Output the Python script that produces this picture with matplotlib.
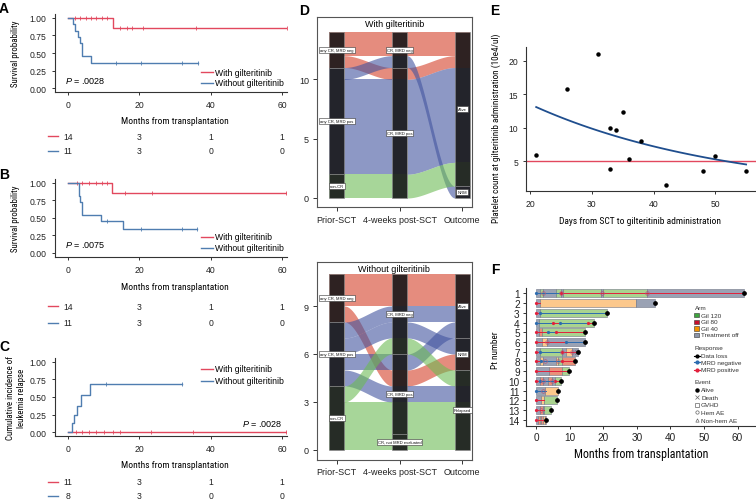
import os
import numpy as np
import matplotlib
matplotlib.use("Agg")
import matplotlib.pyplot as plt
from matplotlib import transforms
from matplotlib import font_manager as fm
from matplotlib.lines import Line2D
from matplotlib.patches import Rectangle

plt.rcParams['font.family'] = ['Liberation Sans', 'DejaVu Sans']
plt.rcParams['mathtext.fontset'] = 'custom'
plt.rcParams['mathtext.it'] = 'Liberation Sans:italic'
plt.rcParams['mathtext.rm'] = 'Liberation Sans'

W, H = 756, 502
RED = '#E2485E'
BLUE = '#4F7DB0'
AXC = '#333333'

# ---------------- data: A / B / C (Kaplan-Meier & cumulative incidence) ----------------
km_xticks = [0, 20, 40, 60]
km_yticks = [0, 0.25, 0.5, 0.75, 1.0]
km_yticklabels = ['0.00', '0.25', '0.50', '0.75', '1.00']
groups = ['With gilteritinib', 'Without gilteritinib']

A_with_t = [0, 12.7, 61.3]
A_with_s = [1.0, 0.857, 0.857]
A_with_cens = [2.0, 3.5, 5.0, 6.5, 8.0, 9.5, 11.0, 14.5, 16.5, 18.0, 21.0, 36.0, 61.3]
A_wo_t = [0, 1.5, 2.0, 2.9, 3.4, 4.0, 6.35, 36.5]
A_wo_s = [1.0, 0.909, 0.818, 0.727, 0.636, 0.455, 0.364, 0.364]
A_wo_cens = [13.5, 20.5, 32.0, 36.5]
A_risk_with = [14, 3, 1, 1]
A_risk_wo = [11, 3, 0, 0]

B_with_t = [0, 12.3, 61.0]
B_with_s = [1.0, 0.857, 0.857]
B_with_cens = [2.5, 4.0, 6.0, 8.0, 9.5, 11.0, 16.0, 23.5, 61.0]
B_wo_t = [0, 3.0, 3.2, 3.4, 3.9, 9.2, 15.5, 36.3]
B_wo_s = [1.0, 0.909, 0.818, 0.727, 0.545, 0.455, 0.341, 0.341]
B_wo_cens = [11.0, 20.5, 32.0, 36.3]
B_risk_with = [14, 3, 1, 1]
B_risk_wo = [11, 3, 0, 0]

C_with_t = [0, 61.0]
C_with_s = [0.0, 0.0]
C_with_cens = [2.4, 4.0, 6.0, 8.0, 10.0, 12.7, 14.6, 23.2, 35.2, 61.0]
C_wo_t = [0, 1.3, 1.7, 2.6, 3.55, 6.2, 32.1]
C_wo_s = [0.0, 0.125, 0.25, 0.375, 0.53, 0.686, 0.686]
C_wo_cens = [10.8, 32.1]
C_risk_with = [11, 3, 1, 1]
C_risk_wo = [8, 3, 0, 0]

# ---------------- data: D (alluvial) ----------------
D_axes_names = ['Prior-SCT', '4-weeks post-SCT', 'Outcome']
# patient groups: (prior state, 4-weeks state, outcome, n)
DW_groups = [
    ('any CR, MRD neg', 'CR, MRD neg', 'Alive', 2),
    ('any CR, MRD neg', 'CR, MRD pos', 'Alive', 1),
    ('any CR, MRD pos', 'CR, MRD neg', 'NRM', 1),
    ('any CR, MRD pos', 'CR, MRD pos', 'Alive', 8),
    ('non-CR', 'CR, MRD pos', 'Alive', 2),
]
DW_order = [[0, 1, 2, 3, 4], [0, 2, 1, 3, 4], [0, 1, 3, 4, 2]]
DO_groups = [
    ('any CR, MRD neg', 'CR, MRD neg', 'Alive', 2),
    ('any CR, MRD neg', 'CR, MRD pos', 'NRM', 1),
    ('any CR, MRD pos', 'CR, MRD neg', 'Alive', 1),
    ('any CR, MRD pos', 'CR, MRD neg', 'NRM', 1),
    ('any CR, MRD pos', 'CR, MRD pos', 'Alive', 1),
    ('any CR, MRD pos', 'CR, MRD pos', 'Relapsed', 1),
    ('non-CR', 'CR, MRD neg', 'Relapsed', 1),
    ('non-CR', 'CR, MRD pos', 'Relapsed', 2),
    ('non-CR', 'CR, not MRD evaluated', 'Relapsed', 1),
]
DO_order = [[0, 1, 2, 3, 4, 5, 6, 7, 8], [0, 2, 3, 6, 4, 1, 5, 7, 8], [0, 2, 4, 3, 1, 6, 5, 7, 8]]
flow_colors = {'any CR, MRD neg': '#D53F28', 'any CR, MRD pos': '#42549F', 'non-CR': '#6DBB55'}

# ---------------- data: E (scatter) ----------------
E_days = np.array([21, 26, 31, 33, 33, 34, 35, 36, 38, 42, 48, 50, 55])
E_plt = np.array([5.9, 15.8, 21.0, 10.0, 3.9, 9.6, 12.3, 5.3, 8.0, 1.5, 3.5, 5.7, 3.5])
E_threshold = 5

# ---------------- data: F (swimmer) ----------------
F_end = [62.0, 35.5, 21.0, 17.3, 14.5, 14.5, 12.5, 11.7, 9.7, 7.5, 6.6, 6.3, 4.4, 3.1]
F_arms = [
    [(0, 1.2, 'off'), (1.2, 2.0, 'g120'), (2.0, 5.8, 'off'), (5.8, 7.3, 'g120'), (7.3, 8.0, 'off'),
     (8.0, 19.3, 'g120'), (19.3, 19.9, 'off'), (19.9, 33.0, 'g120'), (33.0, 62.0, 'off')],
    [(0, 1.3, 'off'), (1.3, 29.8, 'g40'), (29.8, 35.5, 'off')],
    [(0, 1.2, 'off'), (1.2, 21.0, 'g120')],
    [(0, 0.8, 'off'), (0.8, 17.3, 'g120')],
    [(0, 1.0, 'off'), (1.0, 1.8, 'g80'), (1.8, 14.5, 'g120')],
    [(0, 1.8, 'off'), (1.8, 3.3, 'g40'), (3.3, 14.5, 'off')],
    [(0, 1.3, 'off'), (1.3, 7.6, 'g120'), (7.6, 9.0, 'off'), (9.0, 10.8, 'g40'), (10.8, 12.5, 'off')],
    [(0, 1.2, 'off'), (1.2, 2.0, 'g40'), (2.0, 6.0, 'off'), (6.0, 6.6, 'g40'), (6.6, 7.6, 'g120'), (7.6, 11.7, 'g80')],
    [(0, 3.9, 'off'), (3.9, 7.6, 'g80'), (7.6, 9.7, 'g120')],
    [(0, 1.2, 'off'), (1.2, 2.2, 'g80'), (2.2, 3.7, 'off'), (3.7, 4.7, 'g80'), (4.7, 5.6, 'off'), (5.6, 7.5, 'g120')],
    [(0, 2.8, 'off'), (2.8, 6.6, 'g40')],
    [(0, 1.5, 'off'), (1.5, 2.4, 'g40'), (2.4, 6.3, 'g120')],
    [(0, 1.2, 'off'), (1.2, 2.0, 'g80'), (2.0, 2.5, 'off'), (2.5, 4.4, 'g120')],
    [(0, 0.6, 'off'), (0.6, 1.1, 'g80'), (1.1, 1.6, 'g40'), (1.6, 2.1, 'g80'), (2.1, 2.6, 'g40'), (2.6, 3.1, 'g80')],
]
F_resp = [
    [(0, 7.5, 'neg'), (7.5, 62.0, 'pos')],
    [(0, 1.3, 'pos')],
    [(0, 1.2, 'pos'), (1.2, 21.0, 'neg')],
    [(0, 5.0, 'neg'), (5.0, 7.0, 'pos'), (7.0, 15.5, 'neg'), (15.5, 17.3, 'pos')],
    [(0, 3.5, 'pos'), (3.5, 6.0, 'neg'), (6.0, 14.5, 'pos')],
    [(0, 9.0, 'pos'), (9.0, 14.5, 'neg')],
    [(0, 1.3, 'pos'), (1.3, 7.6, 'neg'), (7.6, 12.5, 'pos')],
    [(0, 1.5, 'pos'), (1.5, 7.6, 'neg'), (7.6, 11.7, 'pos')],
    [(0, 9.7, 'pos')],
    [(0, 1.2, 'pos'), (1.2, 5.6, 'neg'), (5.6, 7.5, 'pos')],
    [(0, 3.0, 'neg')],
    [(0, 2.4, 'pos')],
    [(0, 2.5, 'pos')],
    [(0, 3.1, 'pos')],
]
F_hem_ae = [(1, 2.0), (1, 7.3), (1, 19.5), (1, 33.0), (6, 3.3), (7, 7.6), (7, 10.8),
            (8, 2.7), (8, 6.5), (10, 2.2), (10, 4.7), (11, 2.0), (13, 1.6)]
F_death = [(7, 12.3)]
arm_face = {'g120': '#A9D38F', 'g80': '#E8917A', 'g40': '#FCC88C', 'off': '#9AA2B4'}
arm_legend = [('Gil 120', '#3FA53F'), ('Gil 80', '#C8102E'), ('Gil 40', '#F39200'), ('Treatment off', '#8C95A8')]
resp_color = {'neg': '#2C6CB0', 'pos': '#E2203C'}


# condensed font for the axis titles (Helvetica Condensed look)
def find_narrow():
    files = [f.fname for f in fm.fontManager.ttflist]
    prefs = ['liberationsansnarrow-regular', 'robotocondensed-regular', 'notosans-condensed.',
             'opensans_condensed-regular', 'opensans-condensed', 'dejavusanscondensed.']
    for p in prefs:
        for fn in files:
            if os.path.basename(fn).lower().startswith(p):
                return fn
    for fn in files:
        b = os.path.basename(fn).lower()
        if ('narrow' in b or 'condensed' in b) and not any(k in b for k in ['bold', 'italic', 'oblique', 'light', 'thin', 'black', 'medium']):
            return fn
    return None


NARROW_FILE = find_narrow()


def nfont(size):
    if NARROW_FILE:
        return fm.FontProperties(fname=NARROW_FILE, size=size)
    return fm.FontProperties(family='Liberation Sans', size=size * 0.9)


def fx(x):
    return x / W


def fy(y):
    return 1 - y / H


def px_axes(left, top, right, bottom):
    return fig.add_axes([fx(left), fy(bottom), (right - left) / W, (bottom - top) / H])


def style_axes(ax, fs=6, length=2.5, pad=3):
    for s in ['top', 'right']:
        ax.spines[s].set_visible(False)
    for s in ['left', 'bottom']:
        ax.spines[s].set_color(AXC)
        ax.spines[s].set_linewidth(0.8)
    ax.tick_params(colors=AXC, labelsize=fs, length=length, width=0.7, pad=pad, labelcolor='#222222')


def step_at(t, s, x):
    idx = np.searchsorted(t, x, side='right') - 1
    return np.asarray(s)[np.clip(idx, 0, len(s) - 1)]


fig = plt.figure(figsize=(7.56, 5.02), dpi=100)


def km_panel(top, bottom, curves, ylabel, risk, ptxt, ppos, pha, legy, labpos, rows, letter, lety):
    ax = px_axes(55, top, 287, bottom)
    for t, s, cens, col in curves:
        ax.step(t, s, where='post', color=col, lw=1.0)
        ax.plot(cens, step_at(t, s, cens), ls='none', marker='|', ms=3, mew=0.6, color=col)
    ax.set_xlim(-3.6, 61.4)
    ax.set_ylim(-0.057, 1.057)
    ax.set_xticks(km_xticks)
    ax.set_yticks(km_yticks)
    ax.set_yticklabels(km_yticklabels)
    style_axes(ax, fs=6.2, length=2.5, pad=3.5)
    fig.text(fx(labpos[0]), fy(labpos[1]), 'Months from transplantation', ha='center', va='center',
             fontproperties=nfont(6.8))
    fig.text(fx(16), fy((top + bottom) / 2), ylabel, rotation=90, ha='center', va='center',
             fontproperties=nfont(6.4), linespacing=1.25)
    fig.text(fx(ppos[0]), fy(ppos[1]), ptxt, ha=pha, va='center', fontsize=6.5)
    for (lab, col), yy in zip(zip(groups, [RED, BLUE]), legy):
        fig.add_artist(Line2D([fx(201), fx(213)], [fy(yy), fy(yy)], color=col, lw=1.0))
        fig.text(fx(215), fy(yy), lab, ha='left', va='center', fontsize=6.2)
    blend = transforms.blended_transform_factory(ax.transData, fig.transFigure)
    for vals, col, yy in zip(risk, [RED, BLUE], rows):
        fig.add_artist(Line2D([fx(48), fx(58)], [fy(yy), fy(yy)], color=col, lw=1.0))
        for xv, n in zip(km_xticks, vals):
            ax.text(xv, fy(yy), str(n), transform=blend, ha='center', va='center', fontsize=6.2,
                    clip_on=False, color='#222222')
    fig.text(fx(4), fy(lety), letter, ha='center', va='center', fontsize=10, fontweight='bold')
    return ax


km_panel(15, 93,
         [(A_with_t, A_with_s, A_with_cens, RED), (A_wo_t, A_wo_s, A_wo_cens, BLUE)],
         'Survival probability', [A_risk_with, A_risk_wo], r'$P$ = .0028', (65, 81), 'left',
         [73, 84], (175, 122), [137, 152], 'A', 9)
km_panel(180, 257.7,
         [(B_with_t, B_with_s, B_with_cens, RED), (B_wo_t, B_wo_s, B_wo_cens, BLUE)],
         'Survival probability', [B_risk_with, B_risk_wo], r'$P$ = .0075', (65, 245), 'left',
         [237.7, 248.7], (175, 287), [307, 324], 'B', 175)
km_panel(359, 437,
         [(C_with_t, C_with_s, C_with_cens, RED), (C_wo_t, C_wo_s, C_wo_cens, BLUE)],
         'Cumulative incidence of\nleukemia relapse', [C_risk_with, C_risk_wo], r'$P$ = .0028', (282, 424),
         'right', [370, 381.7], (175, 466), [483, 497], 'C', 347)


# ---------------- D: alluvial ----------------
def alluvial(ax, grp, order, title, yticks, ylim):
    total = sum(g[3] for g in grp)
    hw = 0.12
    pos = []
    for k in range(3):
        y = total
        p = {}
        for gi in order[k]:
            p[gi] = (y - grp[gi][3], y)
            y -= grp[gi][3]
        pos.append(p)
    u = np.linspace(0, 1, 80)
    sm = u * u * (3 - 2 * u)
    for gi, g in enumerate(grp):
        col = flow_colors[g[0]]
        for k in range(3):
            b, t = pos[k][gi]
            ax.fill_between([k + 1 - hw, k + 1 + hw], b, t, color=col, alpha=0.6, lw=0)
        for k in range(2):
            b0, t0 = pos[k][gi]
            b1, t1 = pos[k + 1][gi]
            xs = np.linspace(k + 1 + hw, k + 2 - hw, 80)
            ax.fill_between(xs, b0 + (b1 - b0) * sm, t0 + (t1 - t0) * sm, color=col, alpha=0.6, lw=0)
    for k in range(3):
        strata = {}
        for gi in order[k]:
            name = grp[gi][k]
            b, t = pos[k][gi]
            lo, hi = strata.get(name, (b, t))
            strata[name] = (min(lo, b), max(hi, t))
        for name, (b, t) in strata.items():
            ax.add_patch(Rectangle((k + 1 - hw, b), 2 * hw, t - b, fc='#141416', alpha=0.88,
                                   ec='#8A8A8A', lw=0.5))
            ax.text(k + 1, (b + t) / 2, name, ha='center', va='center', fontsize=3.0, color='#111111',
                    bbox=dict(boxstyle='square,pad=0.25', fc='white', ec='#333333', lw=0.4))
    ax.set_xlim(0.68, 3.15)
    ax.set_ylim(*ylim)
    ax.set_xticks([1, 2, 3])
    ax.set_xticklabels(D_axes_names)
    ax.set_yticks(yticks)
    for s in ax.spines.values():
        s.set_color('#555555')
        s.set_linewidth(0.8)
    ax.tick_params(colors='#333333', labelsize=6.5, length=3, width=0.7, pad=2.5, labelcolor='#222222')
    ax.text(0.5, 0.965, title, transform=ax.transAxes, ha='center', va='center', fontsize=6.5)


axD1 = px_axes(316.7, 18, 471.7, 208)
alluvial(axD1, DW_groups, DW_order, 'With gilteritinib', [0, 5, 10], (-0.76, 15.26))
axD2 = px_axes(316.7, 262.7, 471.7, 460.7)
alluvial(axD2, DO_groups, DO_order, 'Without gilteritinib', [0, 3, 6, 9], (-0.61, 11.77))
fig.text(fx(304), fy(11), 'D', ha='center', va='center', fontsize=10, fontweight='bold')

# ---------------- E: scatter with exponential fit ----------------
axE = px_axes(526, 48.3, 756, 192.3)
# exponential fit y = a*exp(b*x), Gauss-Newton started from log-linear fit
b_fit, la = np.polyfit(E_days, np.log(E_plt), 1)
a_fit = np.exp(la)
for _ in range(60):
    e = np.exp(b_fit * E_days)
    J = np.column_stack([e, a_fit * E_days * e])
    d = np.linalg.lstsq(J, E_plt - a_fit * e, rcond=None)[0]
    a_fit += d[0]
    b_fit += d[1]
xx = np.linspace(E_days.min(), E_days.max(), 100)
axE.axhline(E_threshold, color=RED, lw=1.0, zorder=1)
axE.plot(xx, a_fit * np.exp(b_fit * xx), color='#1F4E8E', lw=1.3, zorder=2)
axE.plot(E_days, E_plt, ls='none', marker='o', ms=2.2, color='black', zorder=3)
axE.set_xlim(19.35, 56.6)
axE.set_ylim(0.5, 22)
axE.set_xticks([20, 30, 40, 50])
axE.set_yticks([5, 10, 15, 20])
style_axes(axE, fs=6.2, length=2.5, pad=3)
fig.text(fx(640), fy(221.7), 'Days from SCT to gilteritinib administration', ha='center', va='center',
         fontproperties=nfont(6.8))
fig.text(fx(496), fy(128), 'Platelet count at gilteritinib administration (10e4/ul)', rotation=90,
         ha='center', va='center', fontproperties=nfont(6.6))
fig.text(fx(495), fy(11), 'E', ha='center', va='center', fontsize=10, fontweight='bold')

# ---------------- F: swimmer plot ----------------
axF = px_axes(526, 289, 756, 426.7)
for i, segs in enumerate(F_arms):
    p = i + 1
    for s, e, arm in segs:
        axF.barh(p, e - s, left=s, height=0.82, color=arm_face[arm], edgecolor='#6F7585', lw=0.4, zorder=2)
    for s, e, r in F_resp[i]:
        axF.plot([s, e], [p, p], color=resp_color[r], lw=0.7, zorder=3)
        axF.plot(s, p, ls='none', marker='o', ms=1.3, color=resp_color[r], zorder=3)
    axF.plot(F_end[i], p, ls='none', marker='o', ms=2.4, color='black', zorder=5)
for p, t in F_hem_ae:
    axF.plot(t, p, ls='none', marker='o', ms=2.6, mfc='none', mec='#B05878', mew=0.5, zorder=4)
for p, t in F_death:
    axF.plot(t, p, ls='none', marker='x', ms=2.6, color='#555555', mew=0.6, zorder=4)
axF.set_xlim(-3, 65.5)
axF.set_ylim(14.6, 0.45)
axF.set_yticks(range(1, 15))
axF.set_xticks([0, 10, 20, 30, 40, 50, 60])
style_axes(axF, fs=7.2, length=2.5, pad=2)
fig.text(fx(641), fy(455), 'Months from transplantation', ha='center', va='center', fontproperties=nfont(8.6))
fig.text(fx(496), fy(350), 'Pt number', rotation=90, ha='center', va='center', fontproperties=nfont(6.6))
fig.text(fx(495), fy(270), 'F', ha='center', va='center', fontsize=10, fontweight='bold')

# legend of F
LX, TX = 696.5, 701
LFS = 4.6
fig.text(fx(694.5), fy(308), 'Arm', ha='left', va='center', fontsize=LFS, color='#333333')
for (lab, col), yy in zip(arm_legend, [316, 322.7, 329.3, 336]):
    fig.add_artist(Rectangle((fx(LX - 2.2), fy(yy + 2.2)), 4.4 / W, 4.4 / H, transform=fig.transFigure,
                             fc=col, ec='#333333', lw=0.4))
    fig.text(fx(TX), fy(yy), lab, ha='left', va='center', fontsize=LFS, color='#333333')
fig.text(fx(694.5), fy(348.3), 'Response', ha='left', va='center', fontsize=LFS, color='#333333')
for (lab, col), yy in zip([('Data loss', 'black'), ('MRD negative', '#2C6CB0'), ('MRD positive', '#E2203C')],
                          [356.7, 363.3, 370.7]):
    fig.add_artist(Line2D([fx(LX - 3), fx(LX + 3)], [fy(yy), fy(yy)], color=col, lw=0.8))
    fig.add_artist(Line2D([fx(LX)], [fy(yy)], color=col, marker='o', ms=2.0, ls='none'))
    fig.text(fx(TX), fy(yy), lab, ha='left', va='center', fontsize=LFS, color='#333333')
fig.text(fx(694.5), fy(382.3), 'Event', ha='left', va='center', fontsize=LFS, color='#333333')
for (lab, mk, filled), yy in zip([('Alive', 'o', True), ('Death', 'x', False), ('GVHD', 's', False),
                                  ('Hem AE', 'o', False), ('Non-hem AE', '^', False)],
                                 [390.7, 398.3, 405.7, 413.3, 421.3]):
    if filled:
        m = Line2D([fx(LX)], [fy(yy)], marker=mk, ms=2.2, color='black', ls='none')
    else:
        m = Line2D([fx(LX)], [fy(yy)], marker=mk, ms=2.4, mfc='none', mec='#666666', mew=0.5, ls='none')
    fig.add_artist(m)
    fig.text(fx(TX), fy(yy), lab, ha='left', va='center', fontsize=LFS, color='#333333')

fig.savefig('out.png', dpi=100)
